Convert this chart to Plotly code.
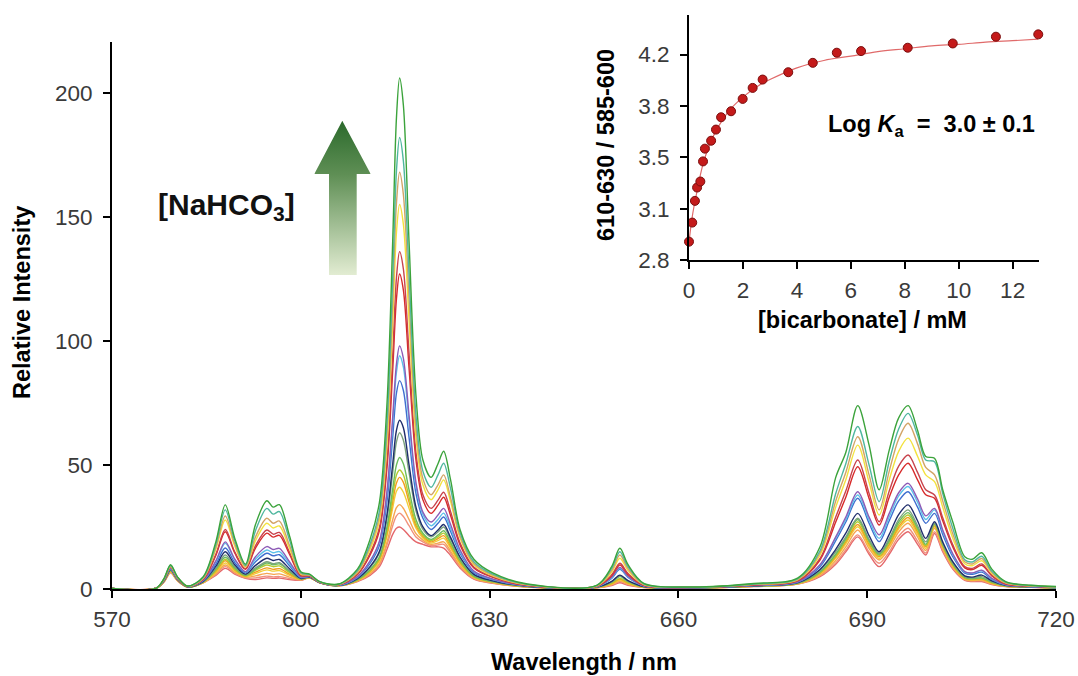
import base64
import plotly.graph_objects as go

# ---------------- main spectra data ----------------
wavelength = [570, 577, 578.3, 579.3, 580.4, 582, 584.5, 586.5, 588, 589.5, 591.2, 592.8, 594.6, 595.6,
              596.6, 598.2, 600, 601.4, 603, 606, 609, 611, 612.5, 613.7, 614.6, 615.2, 615.7, 616.3,
              617.2, 618.3, 619.4, 620.7, 621.8, 622.7, 623.8, 625.3, 627.5, 630.5, 636, 647, 649.4,
              650.7, 652, 654.5, 662, 672, 679, 682.5, 685, 686.6, 688.5, 690.3, 691.9, 693.5, 695,
              696.5, 698, 699.3, 700.7, 702, 703.6, 705.5, 706.7, 708.2, 709.8, 712, 716, 720]

s01 = [0.2, 0.3, 2.9, 6.5, 3.3, 0.8, 2.5, 5.5, 8.3, 6, 4.3, 3.8, 4.5, 4.3, 4.4, 3.8, 3.5, 4.5, 2.5, 1.3, 3, 5.5, 9, 16, 22, 24.5, 25, 24, 21.5, 19, 18, 17, 17, 16.5, 13.5, 8.5, 4, 2.3, 0.8, 0.5, 1.4, 2.5, 1.5, 0.6, 0.4, 1, 2, 5, 10, 15, 21, 14, 9, 14, 20, 23.1, 18, 13.7, 22.4, 15, 8, 3.5, 3, 3, 1.8, 1, 0.7, 0.4]
s02 = [0.2, 0.3, 3, 6.7, 3.4, 0.8, 2.6, 5.9, 9, 6.4, 4.5, 4.5, 5.2, 4.9, 5, 4.2, 3.6, 4.55, 2.5, 1.3, 3.2, 6, 9.8, 17.8, 25.5, 29.5, 30.6, 29.2, 25.5, 21, 19, 17.5, 17.8, 18, 14.5, 9, 4.2, 2.4, 0.8, 0.5, 1.65, 3, 1.8, 0.65, 0.4, 1.04, 2.1, 5.4, 10.5, 15.8, 21.8, 14.8, 10.4, 15, 21.3, 24.5, 19.3, 14.5, 23.1, 15.5, 8.4, 3.7, 3.2, 3.3, 2, 1.05, 0.72, 0.42]
s03 = [0.2, 0.3, 3.1, 6.9, 3.5, 0.8, 2.6, 6.3, 9.7, 6.8, 4.7, 5.3, 6.3, 5.9, 6.1, 4.8, 3.7, 4.6, 2.5, 1.35, 3.3, 6.2, 10.3, 19, 27.9, 32.8, 34, 32.5, 28, 22.3, 19.7, 18, 18.5, 19, 15.3, 9.5, 4.4, 2.5, 0.85, 0.55, 1.8, 3.3, 2, 0.7, 0.42, 1.06, 2.1, 5.6, 11.5, 17, 23.8, 16.3, 11.7, 16.5, 23, 26.5, 21, 15.5, 24.5, 16.3, 8.8, 3.9, 3.4, 3.5, 2.1, 1.1, 0.74, 0.43]
s04 = [0.2, 0.3, 3.2, 7.0, 3.5, 0.85, 2.7, 6.7, 10.5, 7.2, 5, 6.2, 7.7, 7.2, 7.4, 5.5, 3.8, 4.6, 2.55, 1.35, 3.4, 6.8, 11.3, 21.3, 32.6, 39.4, 41, 39, 32.5, 24.5, 20.5, 18.5, 19.5, 20.5, 16.4, 10.2, 4.7, 2.7, 0.9, 0.6, 2, 3.6, 2.2, 0.75, 0.44, 1.1, 2.2, 6.1, 12.5, 18.2, 25.1, 17.2, 12.3, 17.3, 24.2, 27.8, 22, 16.3, 25.1, 16.8, 9.2, 4.1, 3.6, 3.8, 2.3, 1.2, 0.77, 0.45]
s05 = [0.2, 0.3, 3.2, 7.2, 3.6, 0.85, 2.8, 7.2, 11.4, 7.7, 5.2, 6.8, 8.5, 7.9, 8.2, 6, 3.9, 4.65, 2.55, 1.4, 3.5, 7.1, 11.9, 22.5, 35, 42.7, 45, 43, 35, 25.5, 21.2, 19, 20.3, 21.5, 17.2, 10.7, 4.9, 2.8, 0.9, 0.6, 2.2, 4, 2.4, 0.8, 0.44, 1.13, 2.3, 6.3, 13, 19, 26, 18, 13, 18, 25, 28.8, 23, 17, 25.5, 17.2, 9.5, 4.3, 3.8, 4, 2.4, 1.2, 0.79, 0.47]
s06 = [0.2, 0.3, 3.3, 7.3, 3.7, 0.85, 2.8, 7.5, 12, 8, 5.3, 7.5, 9.7, 9, 9.3, 6.6, 4, 4.7, 2.55, 1.4, 3.6, 7.4, 12.4, 23.7, 37.3, 46, 48, 46, 37, 26.5, 21.8, 19.5, 21, 22.5, 18, 11.2, 5, 2.85, 0.95, 0.65, 2.4, 4.3, 2.6, 0.85, 0.45, 1.16, 2.3, 6.6, 13.5, 19.6, 27.1, 18.8, 13.5, 18.8, 26, 29.8, 23.8, 17.5, 26, 17.6, 9.8, 4.5, 4, 4.3, 2.6, 1.25, 0.8, 0.48]
s07 = [0.2, 0.3, 3.4, 7.5, 3.8, 0.85, 2.9, 8, 12.8, 8.5, 5.5, 8, 10.5, 9.8, 10.1, 7.1, 4.1, 4.7, 2.6, 1.4, 3.8, 7.8, 13, 25.1, 40.3, 50, 53, 50.5, 40, 28, 22.5, 20, 21.7, 23.5, 18.8, 11.7, 5.2, 2.95, 1, 0.65, 2.75, 5, 3, 0.9, 0.46, 1.19, 2.4, 6.9, 14, 20.3, 28, 19.5, 14, 19.5, 27, 30.8, 24.6, 18, 26.3, 18, 10.1, 4.7, 4.2, 4.5, 2.8, 1.3, 0.82, 0.49]
s08 = [0.2, 0.3, 3.4, 7.6, 3.8, 0.9, 3, 8.4, 13.7, 9, 5.8, 8.5, 11, 10.2, 10.6, 7.4, 4.2, 4.8, 2.6, 1.45, 4.1, 8.5, 14.5, 28.4, 46.8, 59.3, 63, 60, 47, 31.5, 24, 21, 23, 25, 20, 12.4, 5.7, 3.2, 1.05, 0.7, 2.9, 5.3, 3.2, 0.95, 0.48, 1.25, 2.5, 7.5, 15, 21, 28.5, 20, 14.4, 20.3, 28, 31.9, 25.5, 19, 26.5, 18.3, 10.5, 5, 4.5, 5, 3.1, 1.4, 0.87, 0.53]
s09 = [0.2, 0.3, 3.5, 7.8, 3.9, 0.9, 3.1, 9.2, 15, 9.8, 6, 9.5, 12.4, 11.5, 11.9, 8.2, 4.3, 4.85, 2.6, 1.45, 4.2, 9, 15.2, 30.2, 50.3, 64, 68, 65, 50, 33, 25, 21.5, 23.8, 26, 20.8, 12.9, 5.9, 3.3, 1.1, 0.75, 3.1, 5.6, 3.4, 1, 0.5, 1.29, 2.6, 7.9, 16, 22.5, 30.5, 21.5, 15, 22, 30, 33.9, 27.5, 20.4, 27.1, 19, 11, 5.3, 4.8, 5.6, 3.3, 1.5, 0.89, 0.54]
s10 = [0.2, 0.3, 3.6, 8.0, 4, 0.95, 3.3, 10, 16.5, 10.7, 6.5, 11, 14.4, 13.4, 13.8, 9.4, 4.6, 5, 2.65, 1.5, 4.6, 10.3, 17.6, 35.5, 61, 79, 84, 80, 61, 38.5, 28.5, 24, 26.5, 29, 23.2, 14.3, 6.6, 3.7, 1.2, 0.85, 4.3, 7.9, 4.7, 1.2, 0.53, 1.4, 2.8, 9, 19.5, 27, 36.6, 26.5, 19.1, 27.5, 35.5, 39.2, 33, 26.5, 30.5, 22, 13, 6.4, 5.9, 6.8, 3.8, 1.65, 0.96, 0.6]
s11 = [0.2, 0.3, 3.7, 8.2, 4.1, 0.95, 3.5, 11, 18.4, 11.8, 6.8, 12, 15.7, 14.6, 15.1, 10.2, 4.8, 5.1, 2.7, 1.55, 4.9, 11, 18.9, 38.4, 66.8, 87.4, 94, 89.5, 67.5, 41.5, 30, 25.5, 28, 30.6, 24.5, 15, 7, 3.9, 1.25, 0.9, 4.6, 8.3, 5, 1.25, 0.55, 1.46, 3, 9.6, 20.5, 28, 37.9, 27.8, 20.4, 29, 37.5, 41.3, 35, 28, 31.9, 23.2, 13.8, 6.8, 6.3, 7.4, 4.1, 1.75, 1, 0.63]
s12 = [0.2, 0.3, 3.8, 8.4, 4.2, 0.95, 3.5, 11.3, 19, 12.1, 7, 13, 17.1, 15.9, 16.4, 11, 4.9, 5.1, 2.7, 1.6, 5, 11.3, 19.4, 39.6, 69.2, 90.7, 98, 93, 70, 43, 31, 27, 29.8, 32.5, 26, 15.8, 7.2, 4, 1.3, 0.9, 4.8, 8.7, 5.2, 1.3, 0.56, 1.48, 3, 9.8, 21, 29, 39.2, 29, 21.8, 30.5, 38.8, 42.6, 36.3, 29.5, 32.5, 23.8, 14.2, 7, 6.5, 7.6, 4.3, 1.8, 1.02, 0.64]
s13 = [0.2, 0.3, 3.9, 8.7, 4.4, 1.0, 3.9, 13.5, 23.1, 14.5, 7.9, 16.5, 22.5, 20.9, 21.6, 14, 5.4, 5.3, 2.8, 1.7, 5.8, 13.6, 23.6, 49, 88, 117, 127, 120.5, 89, 52, 36, 30.5, 33.8, 37, 29.6, 17.8, 8.5, 4.7, 1.45, 1.05, 5.3, 9.7, 5.8, 1.45, 0.62, 1.67, 3.4, 11.7, 27, 37, 49.3, 36.5, 25.8, 37, 46, 50.7, 44, 38, 36.6, 27.5, 17, 8.5, 7.8, 9.5, 5.3, 2.1, 1.15, 0.74]
s14 = [0.2, 0.3, 4, 8.9, 4.5, 1.05, 4, 14, 24, 15, 8.2, 17.5, 23.8, 22.1, 22.8, 14.8, 5.6, 5.4, 2.8, 1.7, 6, 14.4, 24.9, 52, 94, 125.5, 136, 129, 95, 55, 38, 32.5, 35.8, 39, 31.2, 18.6, 8.9, 4.9, 1.5, 1.1, 5.7, 10.4, 6.2, 1.55, 0.64, 1.73, 3.5, 12.3, 29, 39.5, 52, 38.5, 27.1, 39.5, 49.5, 54, 47, 40, 37.9, 28.7, 17.8, 9, 8.3, 10.1, 5.6, 2.2, 1.19, 0.77]
s15 = [0.2, 0.3, 4.1, 9.1, 4.6, 1.1, 4.3, 16, 27.8, 17.3, 8.8, 19.5, 26.5, 24.6, 25.4, 16.4, 6, 5.6, 2.85, 1.8, 6.6, 15.9, 27.7, 58.5, 107, 143.7, 155, 147, 108, 61, 42, 36, 40, 44, 35.2, 20.6, 9.8, 5.3, 1.65, 1.2, 6.8, 12.4, 7.4, 1.8, 0.69, 1.86, 3.8, 13.6, 33, 44, 58, 43, 29.8, 44, 55.5, 60.8, 53.5, 46, 43.3, 33, 20.5, 10.2, 9.4, 11.4, 6.3, 2.45, 1.28, 0.83]
s16 = [0.2, 0.3, 4.2, 9.3, 4.7, 1.1, 4.5, 16.8, 29.4, 18.2, 9.2, 21, 28.5, 26.5, 27.4, 17.6, 6.3, 5.7, 2.9, 1.85, 6.9, 17, 29.5, 62.6, 115, 155.5, 168, 159, 117, 65, 44.5, 38, 42, 46, 36.8, 21.4, 10.3, 5.6, 1.75, 1.3, 7.5, 13.7, 8.2, 1.9, 0.72, 1.95, 4, 14.5, 35.5, 47, 61.4, 46, 31.9, 47.5, 60.5, 66.8, 58.5, 49, 46, 35.5, 22.3, 11, 10.1, 12.3, 6.7, 2.6, 1.33, 0.87]
s17 = [0.2, 0.3, 4.3, 9.5, 4.8, 1.15, 4.7, 18, 31.9, 19.5, 9.5, 23.5, 32.5, 30.2, 31.2, 19.8, 6.6, 5.8, 2.95, 1.9, 7.4, 18.1, 31.6, 67.3, 124.7, 168.5, 182, 172.5, 127, 70, 47.5, 41, 46, 50.7, 40.5, 22.8, 11, 6, 1.85, 1.35, 8.3, 15, 9, 2.1, 0.75, 2.04, 4.2, 15.4, 38.5, 50.5, 65.5, 50, 35.2, 51.5, 64.5, 70.8, 62, 52, 51.3, 38.5, 24.5, 11.8, 10.9, 13.2, 7.2, 2.75, 1.4, 0.92]
s18 = [0.2, 0.3, 4.4, 9.8, 4.9, 1.2, 5, 19, 33.9, 20.5, 10, 26, 35.6, 33, 34, 21.5, 7, 6, 3, 2, 8, 20, 35, 75, 140, 190, 206, 195, 140, 78, 52, 45, 50.5, 55.5, 44, 24, 12, 6.5, 2, 1.5, 9, 16.4, 9.8, 2.3, 0.8, 2.2, 4.5, 17, 45, 55, 73.9, 58, 40, 56, 69, 73.9, 64, 53.4, 52.7, 40, 27, 13, 12, 14.6, 8, 3, 1.5, 1]

spectra = [s01, s02, s03, s04, s05, s06, s07, s08, s09, s10, s11, s12, s13, s14, s15, s16, s17, s18]
spectrum_colors = ['#e4676b', '#f0907c', '#f6a552', '#f1cf38', '#f59c1e', '#b4cb30', '#6cbc5c', '#7da37d',
                   '#1f2d6b', '#3f6fd0', '#5cc1ea', '#8d5bb6', '#d72a2a', '#c8434c', '#f3e23e', '#d2a466',
                   '#4fb79f', '#3ba33b']

for i, s in enumerate(spectra):
    if len(s) != len(wavelength):
        raise ValueError(f"series {i+1} has {len(s)} values, expected {len(wavelength)}")

# ---------------- inset data ----------------
bicarbonate_mM = [0, 0.12, 0.22, 0.30, 0.42, 0.52, 0.59, 0.82, 1.00, 1.19, 1.56, 1.99, 2.36, 2.73,
                  3.68, 4.59, 5.48, 6.38, 8.11, 9.78, 11.38, 12.95]
ratio = [2.925, 3.055, 3.203, 3.294, 3.335, 3.472, 3.559, 3.613, 3.689, 3.773, 3.814, 3.898, 3.973,
         4.030, 4.080, 4.144, 4.213, 4.224, 4.247, 4.276, 4.322, 4.338]
fit_x = [0, 0.1, 0.2, 0.3, 0.5, 0.75, 1, 1.5, 2, 2.5, 3, 4, 5, 6, 7, 8, 9, 10, 11, 12, 12.95]
fit_y = [2.92, 3.07, 3.18, 3.27, 3.44, 3.58, 3.68, 3.82, 3.91, 3.98, 4.03, 4.11, 4.16, 4.19, 4.22,
         4.24, 4.26, 4.27, 4.285, 4.295, 4.305]

main_xticks = [570, 600, 630, 660, 690, 720]
main_yticks = [0, 50, 100, 150, 200]
inset_xticks = [0, 2, 4, 6, 8, 10, 12]
inset_yticks = [2.8, 3.15, 3.5, 3.85, 4.2]
inset_ytext = ['2.8', '3.1', '3.5', '3.8', '4.2']

FONT = "Liberation Sans, Arial, sans-serif"

fig = go.Figure()
for s, c in zip(spectra, spectrum_colors):
    fig.add_trace(go.Scatter(x=wavelength, y=s, mode='lines',
                             line=dict(color=c, width=1.4, shape='spline', smoothing=0.9),
                             xaxis='x', yaxis='y', showlegend=False, hoverinfo='skip'))

fig.add_trace(go.Scatter(x=fit_x, y=fit_y, mode='lines', line=dict(color='#e06a6a', width=1.2, shape='spline'),
                         xaxis='x2', yaxis='y2', showlegend=False, cliponaxis=False))
fig.add_trace(go.Scatter(x=bicarbonate_mM, y=ratio, mode='markers',
                         marker=dict(color='#c41a1a', size=9, line=dict(color='#7a0d0d', width=1)),
                         xaxis='x2', yaxis='y2', showlegend=False, cliponaxis=False))

# geometry (pixels) -> paper
L, R, T, B = 112, 22, 10, 87
W, H = 1078, 676
PW, PH = W - L - R, H - T - B


def px(xp):
    return (xp - L) / PW


def py(yp):
    return (H - B - yp) / PH


tick_font = dict(family=FONT, size=22.5, color='#3a3a3a')
axis_common = dict(showline=True, linecolor='black', linewidth=2, ticks='outside', ticklen=7,
                   tickwidth=1.5, tickcolor='black', showgrid=False, zeroline=False, tickfont=tick_font,
                   automargin=False)

fig.update_layout(
    width=W, height=H, autosize=False,
    margin=dict(l=L, r=R, t=T, b=B, autoexpand=False),
    paper_bgcolor='white', plot_bgcolor='rgba(0,0,0,0)',
    font=dict(family=FONT, color='black'),
    showlegend=False,
    xaxis=dict(domain=[0, 1], range=[570, 720], tickvals=main_xticks, anchor='y', ticklabelstandoff=2,
               **axis_common),
    yaxis=dict(domain=[0, py(42)], range=[0, 220.5], tickvals=main_yticks, anchor='x', ticklabelstandoff=6,
               **axis_common),
    xaxis2=dict(domain=[px(689), px(1038.8)], range=[0, 12.97], tickvals=inset_xticks, anchor='y2',
                ticklabelstandoff=2, **axis_common),
    yaxis2=dict(domain=[py(260), py(15)], range=[2.8, 4.47], tickvals=inset_yticks, ticktext=inset_ytext,
                anchor='x2', ticklabelstandoff=6, **axis_common),
)

title_font = dict(family=FONT, size=23.5, color='black')
ann = [
    dict(text='<b>Relative Intensity</b>', x=px(22), y=py(303), textangle=-90, font=title_font),
    dict(text='<b>Wavelength / nm</b>', x=px(584), y=py(662), font=title_font),
    dict(text='<b>610-630 / 585-600</b>', x=px(606), y=py(145), textangle=-90, font=title_font),
    dict(text='<b>[bicarbonate] / mM</b>', x=px(862), y=py(320), font=title_font),
    dict(text='<b>Log <i>K</i><sub>a</sub>  =  3.0 ± 0.1</b>', x=px(931), y=py(126), font=title_font),
    dict(text='<b>[NaHCO<sub>3</sub>]</b>', x=px(226), y=py(206), font=dict(family=FONT, size=30, color='#111')),
]
for a in ann:
    a.update(xref='paper', yref='paper', showarrow=False, xanchor='center', yanchor='middle')
fig.update_layout(annotations=ann)

# gradient arrow as an SVG image
svg = ('<svg xmlns="http://www.w3.org/2000/svg" width="57" height="155" viewBox="0 0 56.4 154.3" '
       'preserveAspectRatio="none"><defs><linearGradient id="g" x1="0" y1="0" x2="0" y2="1">'
       '<stop offset="0" stop-color="#2b6a2c"/><stop offset="0.35" stop-color="#5f8f55"/>'
       '<stop offset="1" stop-color="#e2ecd2"/></linearGradient></defs>'
       '<polygon points="28,0 56.4,53.3 42.4,53.3 42.4,154.3 14.7,154.3 14.7,53.3 0,53.3" fill="url(#g)"/></svg>')
uri = 'data:image/svg+xml;base64,' + base64.b64encode(svg.encode()).decode()
fig.add_layout_image(dict(source=uri, xref='paper', yref='paper', x=px(314.3), y=py(120.7),
                          sizex=56.4 / PW, sizey=154.3 / PH, xanchor='left', yanchor='top',
                          sizing='stretch', layer='above'))

fig.write_html("out.html", config={'displayModeBar': False, 'responsive': False},
               post_script="document.body.style.margin='0';document.body.style.overflow='hidden';")
